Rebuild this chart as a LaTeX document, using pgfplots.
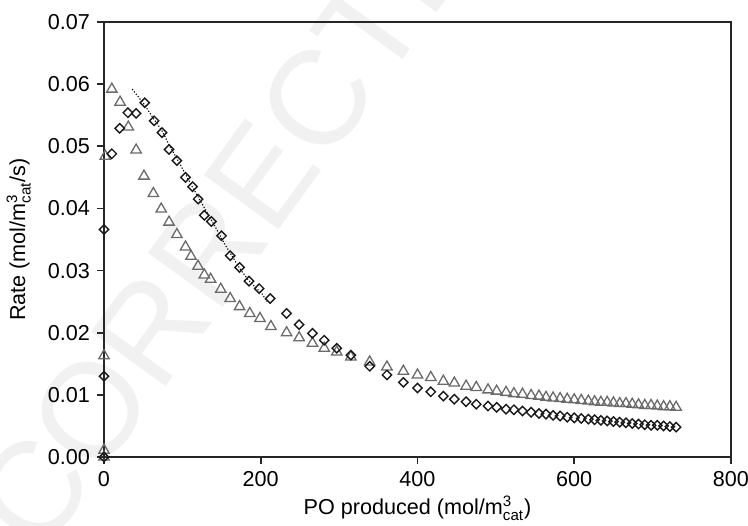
\documentclass[border=0pt]{standalone}
\usepackage{fontspec}
\setmainfont{Liberation Sans}
\usepackage{amsmath}
\usepackage{pgfplots}
\pgfplotsset{compat=1.18}

\definecolor{trigray}{HTML}{6A6A6A}
\definecolor{wmgray}{HTML}{F1F1F1}

\begin{document}
\begin{tikzpicture}
\useasboundingbox (-52pt,-34pt) rectangle (322pt,228.5pt);
% faint proof watermark
\node[rotate=54, anchor=base west, text=wmgray, inner sep=0pt,
      font=\fontsize{67}{67}\selectfont] at (-31.6pt,-50.5pt) {CORRECTED PROOF};
\begin{axis}[
    scale only axis,
    width=313.5pt, height=217.5pt,
    xmin=0, xmax=800, ymin=0, ymax=0.07,
    xtick={0,200,400,600,800},
    ytick={0,0.01,0.02,0.03,0.04,0.05,0.06,0.07},
    scaled y ticks=false,
    yticklabel style={/pgf/number format/.cd, fixed, fixed zerofill, precision=2},
    /pgf/number format/assume math mode=true,
    tick align=outside,
    xtick pos=bottom, ytick pos=left,
    major tick length=3.5pt,
    axis line style={black!85, line width=0.9pt},
    every tick/.style={black!85, line width=0.9pt},
    tick label style={font=\fontsize{10.8}{13}\selectfont},
    label style={font=\fontsize{10.8}{13}\selectfont},
    xlabel={PO produced (mol/m$^{\text{3}}_{\text{cat}}$)},
    ylabel={Rate (mol/m$^{\text{3}}_{\text{cat}}$/s)},
    xlabel style={at={(axis description cs:0.5,-0.118)}, anchor=center},
    ylabel style={at={(axis description cs:-0.136,0.5)}, anchor=center},
]
% model fit (dotted)
\addplot[black, dash pattern=on 0.6pt off 0.9pt, line width=0.55pt] coordinates {
    (36,0.0592) (51,0.0568) (63,0.0545) (74,0.0525) (84,0.0500)
    (94,0.0478) (104,0.0455) (114,0.0432) (123,0.0412) (133,0.0390)
    (143,0.0368) (153,0.0345) (164,0.0322) (174,0.0302) (184,0.0285)
    (194,0.0272) (202,0.0262) (208,0.0250)
};
% triangles
\addplot[only marks, mark=triangle, mark size=3pt,
         mark options={draw=trigray, line width=0.65pt}] coordinates {
    (0,0) (0,0.0011) (0,0.0163) (1.6,0.0484) (10,0.0592) (20.5,0.0571)
    (31,0.0531) (41,0.0494) (51,0.0452) (63,0.0424) (73,0.0399) (83,0.0378)
    (93,0.0358) (104,0.0338) (111,0.0323) (120,0.0307) (128,0.0293)
    (136,0.0286) (149,0.0270) (161,0.0255) (173,0.0242) (186,0.0231)
    (199,0.0223) (213,0.0210) (233,0.0200) (249,0.0192) (266,0.0183)
    (281,0.0175) (297,0.0169) (315,0.0161) (339,0.0153) (361,0.0145)
    (382,0.0138) (400,0.0132) (417,0.0128) (433,0.0122) (447,0.0119)
    (462,0.0114) (475,0.0112) (490,0.0108) (501,0.0106) (513,0.0104)
    (523,0.0102) (534,0.0101) (545,0.0099) (555,0.0098) (564,0.0096)
    (573,0.0095) (582,0.0094) (591,0.0093) (600,0.0092) (609,0.0091)
    (618,0.0090) (626,0.0089) (634,0.0088) (642,0.0088) (650,0.0087)
    (658,0.0086) (666,0.0086) (674,0.0085) (682,0.0084) (690,0.0083)
    (698,0.0083) (706,0.0082) (714,0.0081) (722,0.0081) (730,0.0080)
};
% diamonds
\addplot[only marks, mark=square, mark size=1.65pt,
         mark options={draw=black!90, rotate=45, line width=0.7pt}] coordinates {
    (0,0) (0,0.0130) (0,0.0366) (10,0.0488) (20,0.0529) (30.5,0.0554)
    (41,0.0553) (52,0.0570) (64,0.0541) (74,0.0522) (83,0.0495) (93,0.0477)
    (104,0.0450) (113,0.0435) (120,0.0415) (128,0.0389) (137,0.0379)
    (150,0.0356) (161,0.0324) (173,0.0305) (185,0.0283) (198,0.0271)
    (212,0.0255) (233,0.0231) (249,0.0213) (266,0.0199) (281,0.0188)
    (297,0.0175) (315,0.0164) (339,0.0146) (361,0.0132) (382,0.0120)
    (400,0.0111) (417,0.0105) (433,0.0098) (447,0.0093) (462,0.0089)
    (475,0.0085) (490,0.0082) (501,0.0080) (513,0.0077) (523,0.0076)
    (534,0.0074) (545,0.0072) (555,0.0070) (564,0.0069) (573,0.0067)
    (582,0.0066) (591,0.0064) (600,0.0063) (609,0.0062) (618,0.0061)
    (626,0.0060) (634,0.0059) (642,0.0058) (650,0.0057) (658,0.0056)
    (666,0.0055) (674,0.0054) (682,0.0053) (690,0.0052) (698,0.0051)
    (706,0.0051) (714,0.0050) (722,0.0049) (730,0.0048)
};
\end{axis}
\end{tikzpicture}
\end{document}
